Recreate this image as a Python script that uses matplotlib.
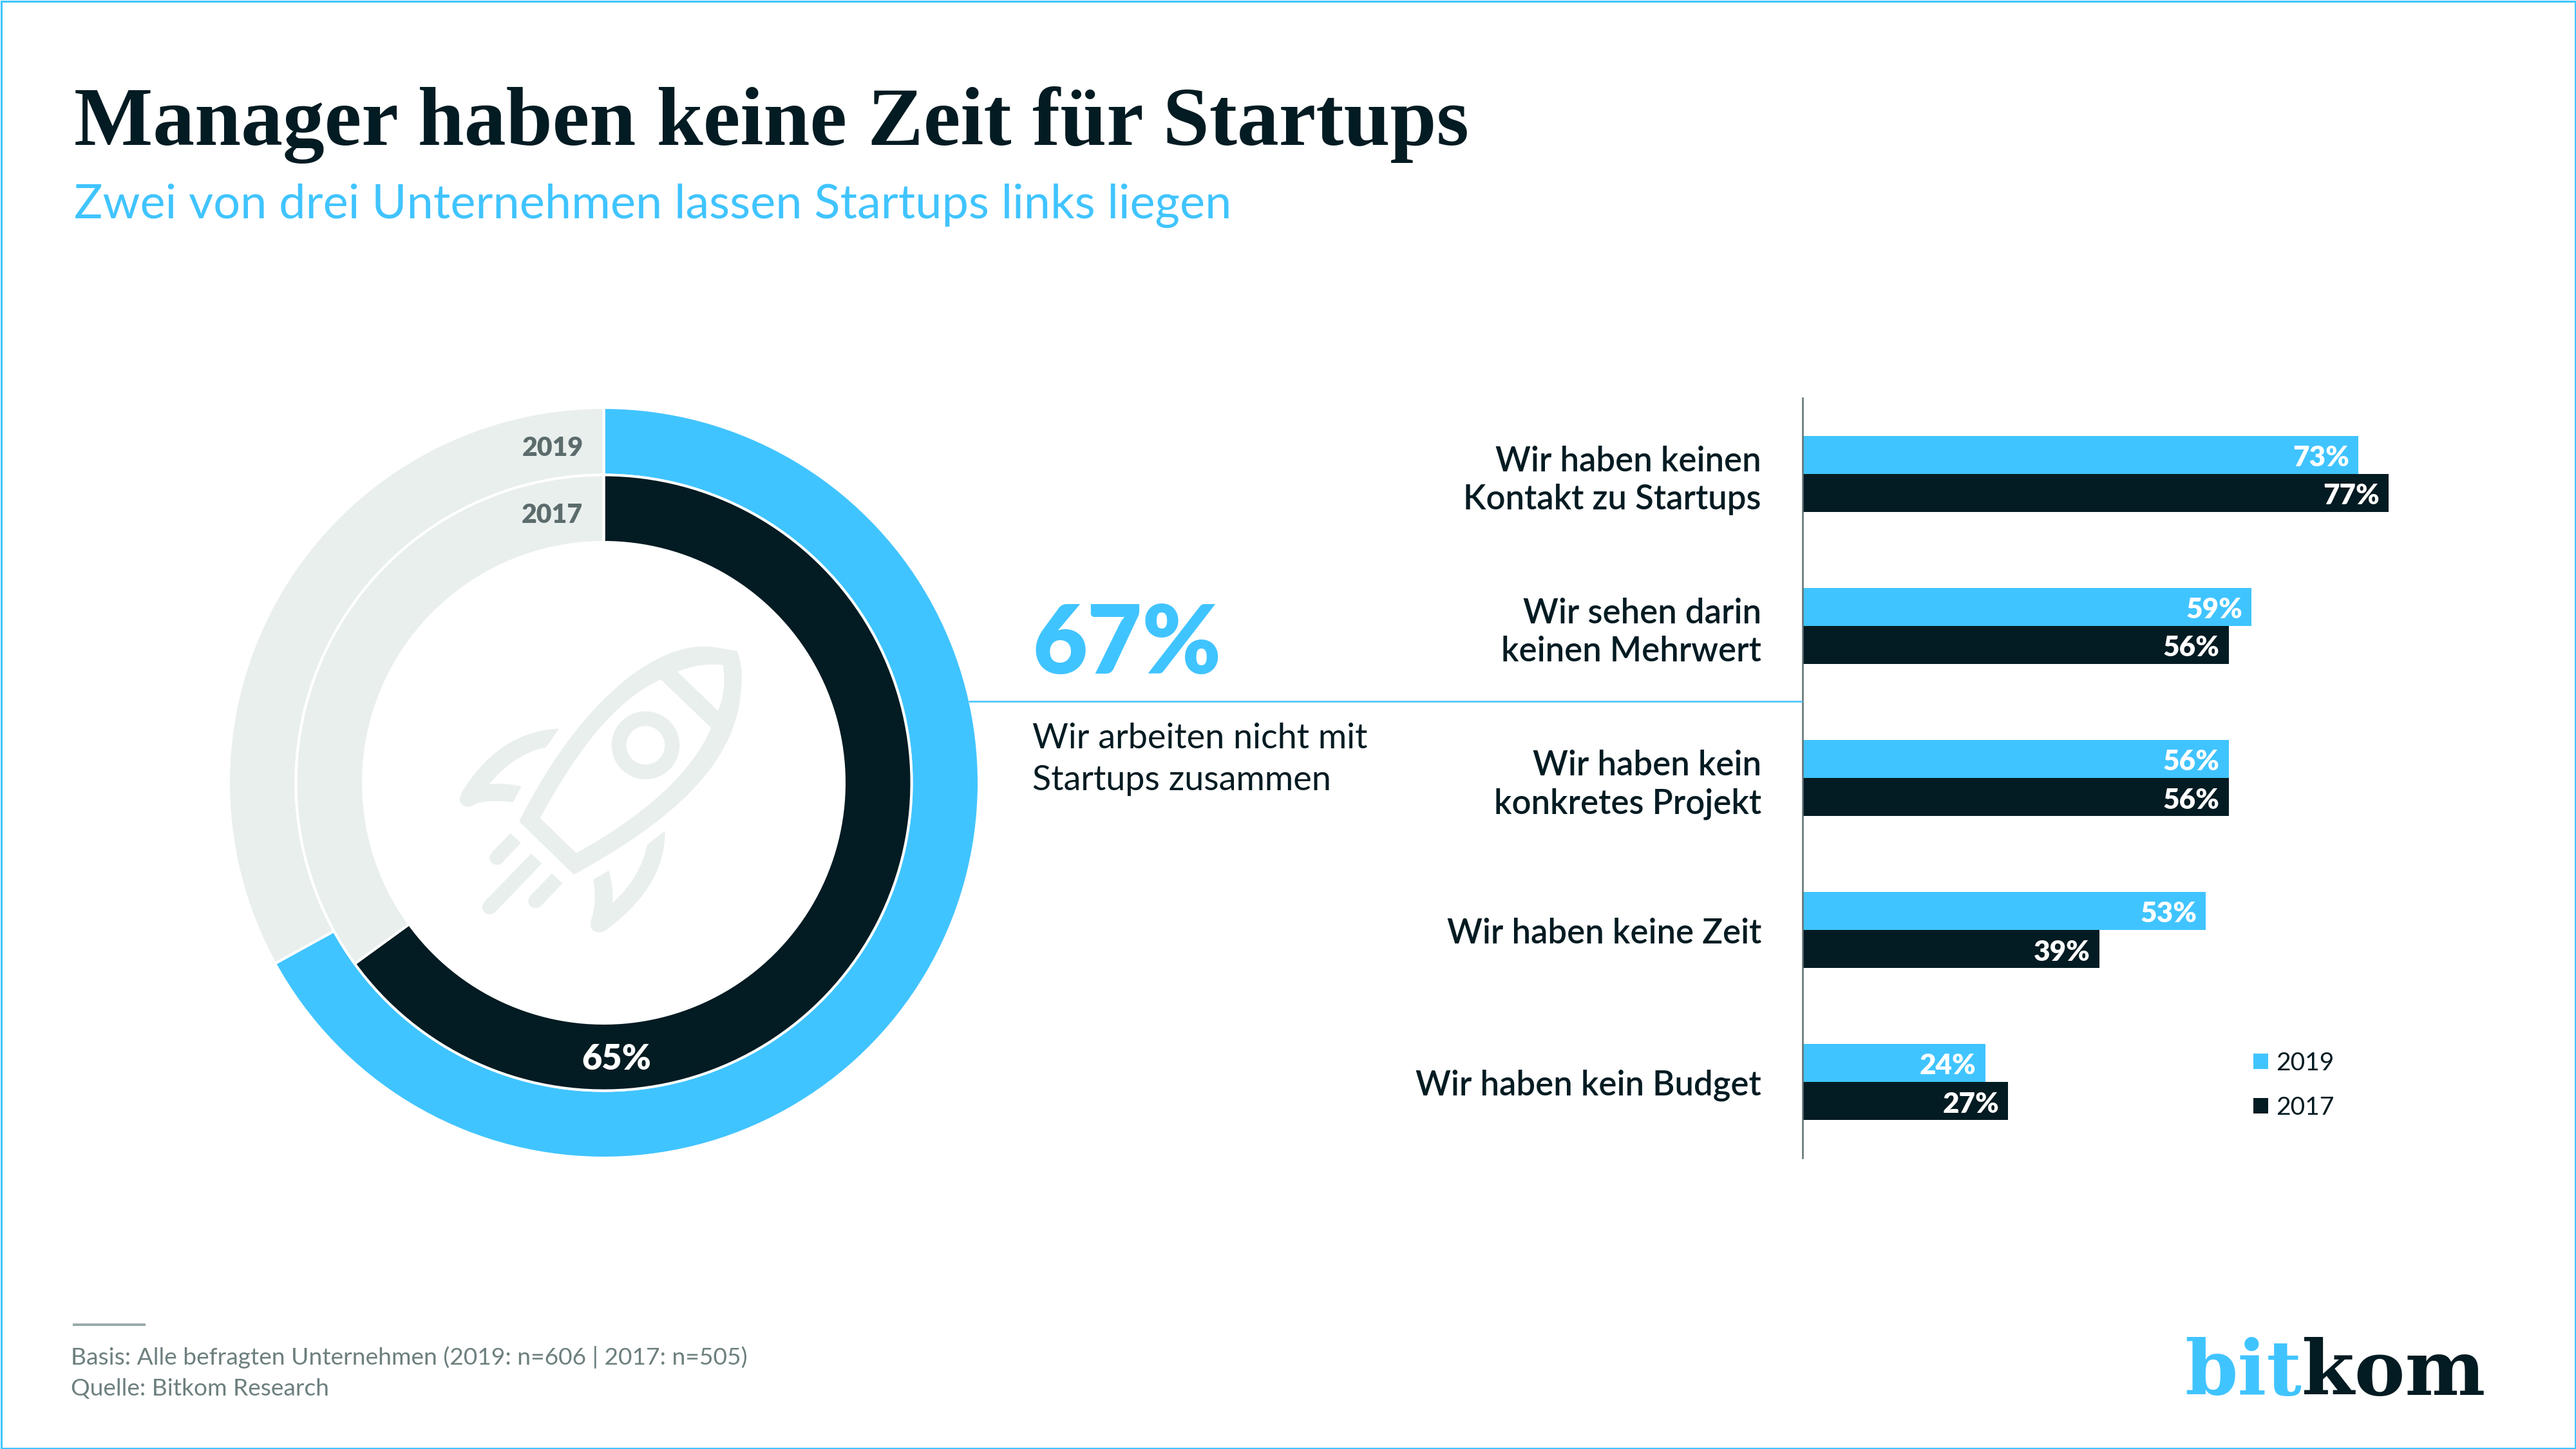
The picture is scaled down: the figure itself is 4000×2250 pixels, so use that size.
"""Bitkom chart: managers have no time for startups."""

from matplotlib import pyplot
from matplotlib.patches import Ellipse, PathPatch, Polygon, Rectangle
from matplotlib.path import Path
from matplotlib.transforms import ScaledTranslation

BLUE = '#40C4FF'
DARK = '#031B22'
LIGHT = '#E9EFED'
GREY = '#5C6B6C'
FOOT = '#6D7F7F'

# Data.
categories = [
    'Wir haben keinen\nKontakt zu Startups',
    'Wir sehen darin\nkeinen Mehrwert',
    'Wir haben kein\nkonkretes Projekt',
    'Wir haben keine Zeit',
    'Wir haben kein Budget',
]
values_2019 = [73, 59, 56, 53, 24]
values_2017 = [77, 56, 56, 39, 27]
donut_2019 = [67, 33]
donut_2017 = [65, 35]

W, H = 4000, 2250
PT = 72 / 250  # points per output pixel

pyplot.rcParams['font.family'] = ['Lato', 'DejaVu Sans']
fig = pyplot.figure(figsize=(16, 9), dpi=250, facecolor='white')


def box(x0, y0, x1, y1):
    """Axes rectangle from pixel corners (y measured from the top)."""
    return [x0 / W, 1 - y1 / H, (x1 - x0) / W, (y1 - y0) / H]


# Pixel-coordinate layer for texts and decoration.
bg = fig.add_axes([0, 0, 1, 1], zorder=3)
bg.set_xlim(0, W)
bg.set_ylim(H, 0)
bg.axis('off')
bg.patch.set_alpha(0)

# Donut.
R = 582.5
cx, cy = 937.5, 1215.5
half = 1.25 * R
ax_pie = fig.add_axes(box(cx - half, cy - half, cx + half, cy + half), zorder=1)
wedge = dict(edgecolor='white', linewidth=4 * PT)
ax_pie.pie(donut_2019, colors=[BLUE, LIGHT], startangle=90, counterclock=False,
           radius=1.0, wedgeprops=dict(width=104.5 / R, **wedge))
ax_pie.pie(donut_2017, colors=[DARK, LIGHT], startangle=90, counterclock=False,
           radius=478 / R, wedgeprops=dict(width=104.5 / R, **wedge))
ax_pie.set_xlim(-1.25, 1.25)
ax_pie.set_ylim(-1.25, 1.25)

# Bars.
ax_bar = fig.add_axes(box(2799, 618, 3799, 1798), zorder=2)
ax_bar.patch.set_alpha(0)
ypos = list(range(len(categories)))
bars_2019 = ax_bar.barh([y - 0.125 for y in ypos], values_2019, height=0.25,
                        color=BLUE, label='2019')
bars_2017 = ax_bar.barh([y + 0.125 for y in ypos], values_2017, height=0.25,
                        color=DARK, label='2017')
ax_bar.set_xlim(0, 1000 / 11.82)
ax_bar.set_ylim(4.5, -0.5)
ax_bar.set_xticks([])
ax_bar.set_yticks(ypos)
ax_bar.set_yticklabels(categories, fontsize=52.7 * PT, fontweight='semibold',
                       color=DARK, linespacing=1.24, ha='right')
ax_bar.tick_params(axis='y', length=0, pad=64 * PT)
# Nudge the category labels down a little.
nudge = ScaledTranslation(0, -1 / 250, fig.dpi_scale_trans)
for label in ax_bar.get_yticklabels():
    label.set_transform(label.get_transform() + nudge)
for side in ['top', 'right', 'bottom']:
    ax_bar.spines[side].set_visible(False)
ax_bar.spines['left'].set_color('#5F6F72')
ax_bar.spines['left'].set_linewidth(2.5 * PT)

for bars, vals in [(bars_2019, values_2019), (bars_2017, values_2017)]:
    for bar, val in zip(bars, vals):
        ax_bar.annotate(f'{val}%', (val, bar.get_y() + bar.get_height() / 2),
                        xytext=(-14 * PT, -5 * PT), textcoords='offset points',
                        ha='right', va='center', color='white',
                        fontsize=44 * PT, fontweight=800)

ax_bar.legend(loc='upper left', bbox_to_anchor=(3499, 1633),
              bbox_transform=bg.transData, frameon=False, fontsize=39 * PT,
              handlelength=0.59, handleheight=0.59, handletextpad=0.3,
              borderpad=0, borderaxespad=0, labelspacing=0.84, labelcolor=DARK)

# Connector between donut and bars.
bg.plot([1504, 2799], [1088.5, 1088.5], color=BLUE, lw=2.5 * PT,
        solid_capstyle='butt')

# Titles.
bg.text(115, 225, 'Manager haben keine Zeit für Startups', color=DARK,
        fontsize=129.7 * PT, fontweight='bold', family=['Liberation Serif'])
bg.text(115, 339, 'Zwei von drei Unternehmen lassen Startups links liegen',
        color=BLUE, fontsize=73.9 * PT)

# Donut labels.
bg.text(906, 708, '2019', color=GREY, ha='right', fontsize=41 * PT,
        fontweight=800)
bg.text(905, 812, '2017', color=GREY, ha='right', fontsize=41 * PT,
        fontweight=800)
bg.text(957, 1661, f'{donut_2017[0]}%', color='white', ha='center',
        fontsize=54 * PT, fontweight=800)

# Callout.
bg.text(1603, 1046, f'{donut_2019[0]}%', color=BLUE, fontsize=147 * PT,
        fontweight=800)
bg.text(1603, 1162, 'Wir arbeiten nicht mit', color=DARK, fontsize=54 * PT)
bg.text(1603, 1227, 'Startups zusammen', color=DARK, fontsize=54 * PT)

# Footer.
bg.plot([113, 226], [2057, 2057], color='#9BAAAA', lw=4 * PT,
        solid_capstyle='butt')
bg.text(110, 2119, 'Basis: Alle befragten Unternehmen (2019: n=606 | 2017: n=505)',
        color=FOOT, fontsize=37.2 * PT)
bg.text(110, 2167, 'Quelle: Bitkom Research', color=FOOT, fontsize=37.2 * PT)

# Logo.
bg.text(3574, 2166, 'bit', color=BLUE, ha='right', fontsize=118 * PT,
        fontweight='bold', family=['DejaVu Serif'])
bg.text(3574, 2166, 'kom', color=DARK, ha='left', fontsize=118 * PT,
        fontweight='bold', family=['DejaVu Serif'])

# Frame.
bg.add_patch(Rectangle((1.5, 1.5), W - 3, H - 3, fill=False, edgecolor=BLUE,
                       lw=3 * PT))


# Rocket icon.
def rk(x, y):
    return (650 + x / 2.613, 950 + y / 2.904)


def shape(start, *segments, color=LIGHT):
    verts = [rk(*start)]
    codes = [Path.MOVETO]
    for seg in segments:
        if len(seg) == 1:
            verts.append(rk(*seg[0]))
            codes.append(Path.LINETO)
        else:
            verts.extend(rk(*p) for p in seg)
            codes.extend([Path.CURVE4] * 3)
    verts.append(verts[0])
    codes.append(Path.CLOSEPOLY)
    bg.add_patch(PathPatch(Path(verts, codes), facecolor=color, edgecolor='none'))


def blob(x, y, w, h, color=LIGHT):
    bg.add_patch(Ellipse(rk(x, y), w / 2.613, h / 2.904, facecolor=color,
                         edgecolor='none'))


# hull
shape((408, 945), [(640, 430), (950, 130), (1190, 158)], [(1293, 177)],
      [(1320, 260), (1310, 330), (1308, 350)],
      [(1290, 700), (1000, 960), (630, 1185)])
shape((1050, 270), [(1120, 240), (1180, 232), (1235, 240)],
      [(1245, 310), (1240, 380), (1215, 447)], color='white')
shape((982, 305), [(1187, 523)], [(1100, 750), (880, 940), (640, 1088)],
      [(493, 930)], [(650, 610), (800, 400), (982, 305)], color='white')
blob(921, 602, 276, 306)
blob(921, 602, 156, 174, color='white')
# fins
shape((570, 527), [(400, 535), (270, 640), (172, 820)], [(205, 878)],
      [(250, 850), (320, 850), (383, 858)], [(417, 788)],
      [(370, 775), (330, 773), (287, 777)], [(350, 690), (430, 630), (517, 611)])
blob(202, 845, 70, 68)
shape((1000, 988), [(1000, 1180), (900, 1320), (755, 1440)], [(698, 1395)],
      [(720, 1330), (718, 1260), (708, 1208)], [(772, 1166)],
      [(785, 1220), (790, 1270), (787, 1312)],
      [(860, 1240), (910, 1150), (927, 1050)])
blob(732, 1412, 70, 68)
# flames
for pts, tip in [
    ([(372, 998), (415, 1042), (340, 1130), (297, 1085)], (318, 1110)),
    ([(457, 1090), (500, 1135), (310, 1355), (265, 1310)], (288, 1333)),
    ([(541, 1180), (584, 1225), (497, 1325), (452, 1282)], (475, 1305)),
]:
    bg.add_patch(Polygon([rk(*p) for p in pts], closed=True, facecolor=LIGHT,
                         edgecolor='none'))
    blob(tip[0], tip[1], 60, 62)

fig.savefig('out.png', dpi=250)
